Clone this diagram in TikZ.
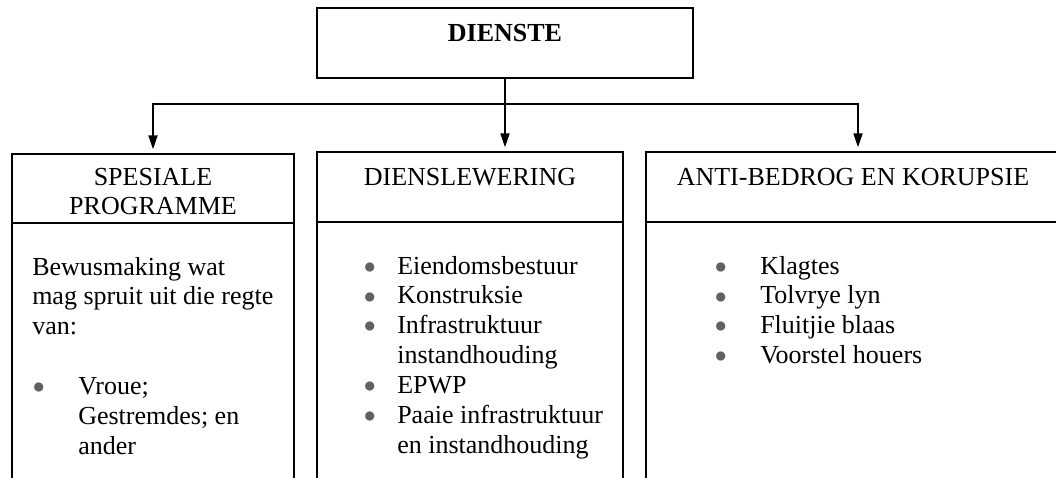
\documentclass[tikz,border=0pt]{standalone}
\usepackage{fontspec}
\setmainfont{Liberation Serif}
\usetikzlibrary{arrows.meta, positioning, calc}
\definecolor{bulgrey}{gray}{0.38}
\newcommand{\bul}{\textcolor{bulgrey}{\raisebox{0.6pt}{\fontsize{16}{16}\selectfont ●}}}
\tikzset{
  >={Triangle[length=10.5pt,width=6.75pt]},
  box/.style={draw, line width=1.3pt, inner sep=0pt, outer sep=0pt, minimum width=#1},
  line/.style={line width=1.3pt},
  arr/.style={line width=1.3pt, ->, shorten >=3.5pt},
  txt/.style={anchor=base west, inner sep=0pt}
}
\begin{document}
\begin{tikzpicture}[x=0.75pt, y=-0.75pt, font=\fontsize{19.5}{22.4}\selectfont]
  \useasboundingbox (0,0) rectangle (1056,478);
  \clip (0,0) rectangle (1056,478);
  % top box
  \node[box=282pt, text height=25.5pt, text depth=27pt, anchor=base, font=\fontsize{19.5}{22.4}\selectfont\bfseries] (dienste) at (505,42) {DIENSTE};
  % headers
  \node[box=211.5pt, text height=23.25pt, text depth=28.5pt, anchor=base] (spes) at (153,185)
    {\begin{tabular}[t]{@{}c@{}}SPESIALE\\PROGRAMME\end{tabular}};
  \node[box=229.5pt, text height=24.75pt, text depth=27.75pt, anchor=base] (dlw) at (470,185) {DIENSLEWERING};
  \node[box=310.5pt, text height=24.75pt, text depth=27.75pt, anchor=base] (abk) at (853,185) {ANTI-BEDROG EN KORUPSIE};
  % bodies (run off the page)
  \node[box=211.5pt, minimum height=300pt, anchor=north] (spesbody) at (spes.south) {};
  \node[box=229.5pt, minimum height=300pt, anchor=north] (dlwbody) at (dlw.south) {};
  \node[box=310.5pt, minimum height=300pt, anchor=north] (abkbody) at (abk.south) {};
  % connectors
  \coordinate (split) at (dienste.south |- 0,104);
  \coordinate (jl) at (153,104);
  \coordinate (jr) at (858,104);
  \draw[arr] (dienste.south) -- (dienste.south |- dlw.north);
  \draw[arr] (split) -- (jl) -- (jl |- spes.north);
  \draw[arr] (split) -- (jr) -- (jr |- abk.north);
  % lists
  \node[txt] (spestext) at (32,275) {\begin{tabular}[t]{@{}p{34.5pt}@{}l@{}}
    \multicolumn{2}{@{}l@{}}{Bewusmaking wat}\\
    \multicolumn{2}{@{}l@{}}{mag spruit uit die regte}\\
    \multicolumn{2}{@{}l@{}}{van:}\\
    \\
    \bul & Vroue;\\
         & Gestremdes; en\\
         & ander
  \end{tabular}};
  \node[txt] (dlwtext) at (363,274) {\begin{tabular}[t]{@{}p{25.5pt}@{}l@{}}
    \bul & Eiendomsbestuur\\
    \bul & Konstruksie\\
    \bul & Infrastruktuur\\
         & instandhouding\\
    \bul & EPWP\\
    \bul & Paaie infrastruktuur\\
         & en instandhouding
  \end{tabular}};
  \node[txt] (abktext) at (714,274) {\begin{tabular}[t]{@{}p{34.5pt}@{}l@{}}
    \bul & Klagtes\\
    \bul & Tolvrye lyn\\
    \bul & Fluitjie blaas\\
    \bul & Voorstel houers
  \end{tabular}};
\end{tikzpicture}
\end{document}
